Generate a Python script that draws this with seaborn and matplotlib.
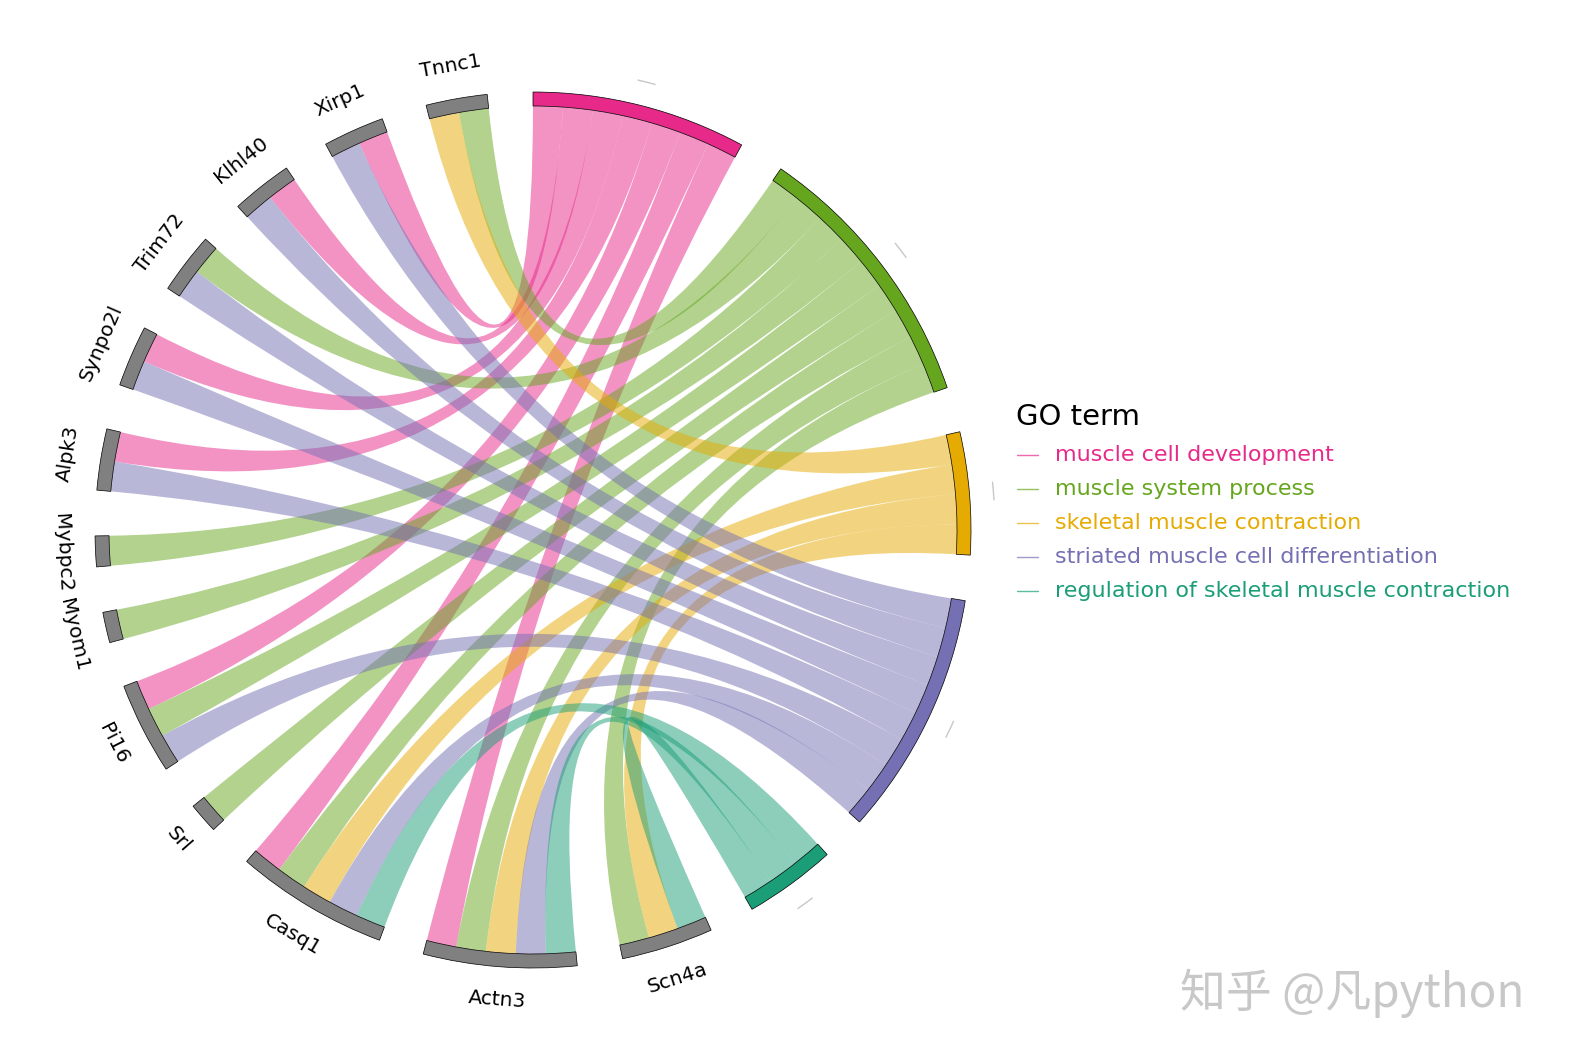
import matplotlib
matplotlib.use("Agg")
import matplotlib.pyplot as plt
import numpy as np
import seaborn as sns
from matplotlib.patches import Wedge, PathPatch
from matplotlib.path import Path

# GO terms, clockwise from 12 o'clock
go_terms = [
    "muscle cell development",
    "muscle system process",
    "skeletal muscle contraction",
    "striated muscle cell differentiation",
    "regulation of skeletal muscle contraction",
]
# genes, clockwise after the GO terms
genes = ["Scn4a", "Actn3", "Casq1", "Srl", "Pi16", "Myom1", "Mybpc2",
         "Alpk3", "Synpo2l", "Trim72", "Klhl40", "Xirp1", "Tnnc1"]
# gene x GO term membership (columns follow go_terms)
membership = [
    [0, 1, 1, 0, 1],  # Scn4a
    [1, 1, 1, 1, 1],  # Actn3
    [1, 1, 1, 1, 1],  # Casq1
    [0, 1, 0, 0, 0],  # Srl
    [1, 1, 0, 1, 0],  # Pi16
    [0, 1, 0, 0, 0],  # Myom1
    [0, 1, 0, 0, 0],  # Mybpc2
    [1, 0, 0, 1, 0],  # Alpk3
    [1, 0, 0, 1, 0],  # Synpo2l
    [0, 1, 0, 1, 0],  # Trim72
    [1, 0, 0, 1, 0],  # Klhl40
    [1, 0, 0, 1, 0],  # Xirp1
    [0, 1, 1, 0, 0],  # Tnnc1
]

sns.set_theme(style="white")
dark2 = sns.color_palette("Dark2")
go_colors = [dark2[3], dark2[4], dark2[5], dark2[2], dark2[0]]

m = np.array(membership)
n_genes, n_terms = m.shape
gap = 6.0
# every link takes one unit on the gene side and one on the term side
unit = (360 - gap * (n_genes + n_terms)) / (2 * m.sum())
R_out, R_in = 438, 424

# angular spans, clockwise from 90 deg
theta = 90.0
term_span = []
for s in m.sum(axis=0):
    term_span.append((theta, theta - s * unit))
    theta -= s * unit + gap
gene_span = []
for s in m.sum(axis=1):
    gene_span.append((theta, theta - s * unit))
    theta -= s * unit + gap

term_slot, gene_slot = {}, {}
for t in range(n_terms):
    a = term_span[t][0]
    for g in reversed(range(n_genes)):
        if m[g, t]:
            term_slot[(g, t)] = (a, a - unit)
            a -= unit
for g in range(n_genes):
    a = gene_span[g][0]
    for t in reversed(range(n_terms)):
        if m[g, t]:
            gene_slot[(g, t)] = (a, a - unit)
            a -= unit


def arc_pts(a0, a1, r, n=40):
    th = np.radians(np.linspace(a0, a1, n))
    return np.column_stack([r * np.cos(th), r * np.sin(th)])


def ribbon(gs, ts, r):
    p = arc_pts(gs[0], gs[1], r)
    q = arc_pts(ts[0], ts[1], r)
    verts = list(p) + [(0, 0), q[0]] + list(q[1:]) + [(0, 0), p[0], p[0]]
    codes = ([Path.MOVETO] + [Path.LINETO] * (len(p) - 1) + [Path.CURVE3] * 2
             + [Path.LINETO] * (len(q) - 1) + [Path.CURVE3] * 2 + [Path.CLOSEPOLY])
    return Path(verts, codes)


fig = plt.figure(figsize=(15.7, 10.64), dpi=100)
ax = fig.add_axes([0, 0, 1, 1])
ax.set_xlim(-533, 1037)
ax.set_ylim(-534, 530)
ax.axis("off")

# ribbons
for t in range(n_terms):
    for g in range(n_genes):
        if m[g, t]:
            path = ribbon(gene_slot[(g, t)], term_slot[(g, t)], R_in)
            ax.add_patch(PathPatch(path, facecolor=go_colors[t], edgecolor="none", alpha=0.5))

# GO term arcs + faint mid ticks
for t in range(n_terms):
    a0, a1 = term_span[t]
    ax.add_patch(Wedge((0, 0), R_out, a1, a0, width=R_out - R_in,
                       facecolor=go_colors[t], edgecolor="black", linewidth=0.5))
    mid = (a0 + a1) / 2
    tick = arc_pts(mid - 1.1, mid + 1.1, 462, 5)
    ax.plot(tick[:, 0], tick[:, 1], color="#c8c8c8", linewidth=1)

# gene arcs + labels
for g in range(n_genes):
    a0, a1 = gene_span[g]
    ax.add_patch(Wedge((0, 0), R_out, a1, a0, width=R_out - R_in,
                       facecolor="#808080", edgecolor="black", linewidth=0.5))
    mid = (a0 + a1) / 2 % 360
    rot = mid - 90 if mid <= 180 else mid + 90
    x, y = 471 * np.cos(np.radians(mid)), 471 * np.sin(np.radians(mid))
    ax.text(x, y, genes[g], rotation=rot, rotation_mode="anchor",
            ha="center", va="center", fontsize=14.5, color="black")

# legend
ax.text(483, 113, "GO term", fontsize=21, ha="left", va="center", color="black")
for t in range(n_terms):
    y = 75 - t * 34
    ax.plot([484, 505], [y, y], color=go_colors[t], linewidth=1, alpha=0.7)
    ax.text(522, y, go_terms[t], fontsize=16, ha="left", va="center", color=go_colors[t])

# watermark
ax.text(819, -463, "知乎 @凡python", fontsize=33, ha="center", va="center",
        color="#c8c8c8", family=["Noto Sans CJK SC", "DejaVu Sans"])

fig.savefig("out.png", dpi=100)
